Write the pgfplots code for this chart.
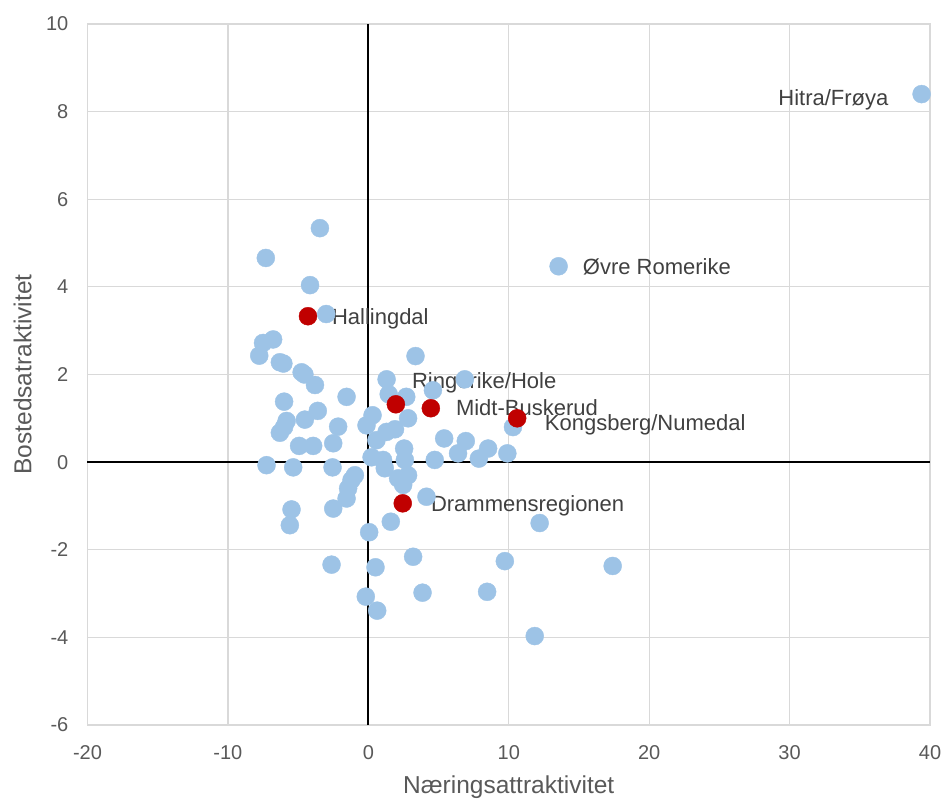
\documentclass[border=0pt]{standalone}
\usepackage{fontspec}
\setmainfont{Liberation Sans}
\usepackage{pgfplots}
\pgfplotsset{compat=1.18}

\definecolor{ptblue}{HTML}{9DC3E6}
\definecolor{ptred}{HTML}{C00000}
\definecolor{gridgray}{HTML}{D9D9D9}
\definecolor{txtgray}{HTML}{595959}
\definecolor{lblgray}{HTML}{404040}

% regioner: naeringsattraktivitet (x), bostedsattraktivitet (y)
\pgfplotstableread{
x y
-3.45 5.34
-7.3 4.66
-4.15 4.04
-3.0 3.38
-6.78 2.8
-7.5 2.72
-7.77 2.43
-6.3 2.28
-6.05 2.25
-4.75 2.05
-4.55 2.0
-3.8 1.76
3.36 2.42
1.3 1.89
6.87 1.89
-1.55 1.49
-6.0 1.38
-3.6 1.17
-4.52 0.97
-5.82 0.94
-6.0 0.8
-6.3 0.67
-2.15 0.81
-2.5 0.43
-4.93 0.37
-3.93 0.37
0.3 1.07
-0.13 0.84
2.7 1.49
4.6 1.64
1.45 1.55
2.83 1.0
1.3 0.69
1.9 0.75
0.58 0.5
2.55 0.31
2.6 0.05
4.73 0.05
-7.25 -0.07
-5.35 -0.12
-2.55 -0.12
0.23 0.11
1.05 0.05
1.17 -0.14
-0.96 -0.3
-1.2 -0.41
-1.44 -0.6
-1.55 -0.83
2.83 -0.3
2.12 -0.37
2.48 -0.52
4.14 -0.79
-5.47 -1.08
-2.5 -1.06
-5.59 -1.44
1.6 -1.36
0.06 -1.6
3.19 -2.16
-2.62 -2.34
0.51 -2.4
9.72 -2.26
-0.18 -3.07
3.86 -2.98
8.46 -2.96
0.63 -3.39
11.85 -3.97
12.2 -1.39
17.4 -2.37
10.3 0.8
5.4 0.54
6.94 0.48
6.39 0.2
7.87 0.08
8.53 0.31
9.9 0.2
13.55 4.47
39.4 8.4
}\others

\pgfplotstableread{
x y
-4.3 3.33
1.96 1.32
4.45 1.23
10.6 1.0
2.45 -0.94
}\buskerud

\begin{document}
\begin{tikzpicture}
\begin{axis}[
    scale only axis, width=842.5bp, height=701bp,
    xmin=-20, xmax=40, ymin=-6, ymax=10,
    xtick distance=10, ytick distance=2,
    grid=major, grid style={draw=gridgray, line width=1.2bp},
    axis line style={draw=gridgray, line width=1.2bp},
    tick style={draw=none},
    /pgf/number format/assume math mode=true,
    ticklabel style={font=\fontsize{20bp}{24bp}\selectfont, text=txtgray, inner sep=0pt},
    yticklabel style={xshift=-19bp},
    xticklabel style={yshift=-20bp},
    xlabel={Næringsattraktivitet},
    ylabel={Bostedsatraktivitet},
    label style={font=\fontsize{24.5bp}{29bp}\selectfont, text=txtgray, inner sep=0pt},
    xlabel style={at={(axis description cs:0.5,0)}, anchor=base, yshift=-68bp},
    ylabel style={at={(axis description cs:0,0.5)}, anchor=base, yshift=56bp},
    clip=false,
  ]
  \addplot[black, line width=1.8bp, no marks] coordinates {(0,-6) (0,10)};
  \addplot[black, line width=1.8bp, no marks] coordinates {(-20,0) (40,0)};
  \addplot[only marks, mark=*, mark size=9bp, mark options={fill=ptblue, draw=ptblue}] table {\others};
  \addplot[only marks, mark=*, mark size=9bp, mark options={fill=ptred, draw=ptred}] table {\buskerud};
  \begin{scope}[every node/.style={font=\fontsize{22bp}{26bp}\selectfont, text=lblgray, inner sep=0pt}]
    \node[anchor=base east] at (axis cs:37.05,8.15) {Hitra/Frøya};
    \node[anchor=base west] at (axis cs:15.27,4.29) {Øvre Romerike};
    \node[anchor=base west] at (axis cs:-2.6,3.15) {Hallingdal};
    \node[anchor=base west] at (axis cs:3.1,1.69) {Ringerike/Hole};
    \node[anchor=base west] at (axis cs:6.23,1.07) {Midt-Buskerud};
    \node[anchor=base west] at (axis cs:12.56,0.73) {Kongsberg/Numedal};
    \node[anchor=base west] at (axis cs:4.45,-1.12) {Drammensregionen};
  \end{scope}
\end{axis}
\path ([xshift=-87.5bp,yshift=-73bp]current axis.south west) rectangle ([xshift=14bp,yshift=24bp]current axis.north east);
\end{tikzpicture}
\end{document}
